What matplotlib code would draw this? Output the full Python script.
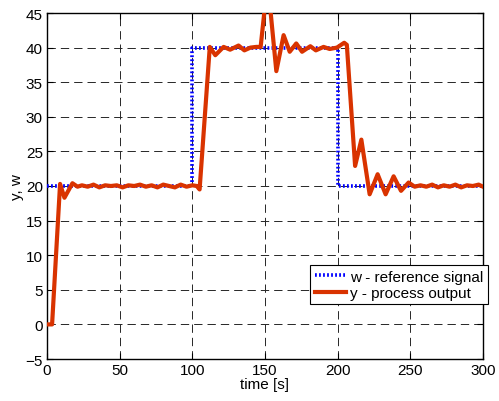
import matplotlib
matplotlib.use("Agg")
import matplotlib.pyplot as plt

plt.rcParams['font.family'] = ['Liberation Sans', 'DejaVu Sans']
plt.rcParams['lines.scale_dashes'] = False

# Reference signal w (setpoint steps)
w_time = [0, 100, 100, 200, 200, 300]
w_value = [20, 20, 40, 40, 20, 20]

# Process output y (sampled response)
y_time = [0, 3.5, 9, 12, 17.5, 21, 24, 28, 32, 36, 40, 44, 48, 52, 56, 60, 64,
          68, 72, 76, 80, 84, 88, 92, 96, 100, 103, 105,
          112, 115.8, 121.5, 126, 131.8, 135.8, 140, 144, 147,
          150.5, 153, 157.8, 162.8, 167, 171.5, 175.5, 181.2, 185, 190.3, 194.5,
          199.5, 204.5, 206.3,
          212, 216.3, 222, 227.5, 233, 238.5, 243.6, 248.8, 253, 257, 261, 265,
          269, 273, 277, 281, 285, 289, 293, 297, 300]
y_value = [0, 0, 20.3, 18.3, 20.4, 19.9, 20.1, 19.9, 20.2, 19.8, 20.1, 20.0, 20.1,
           19.8, 20.1, 20.0, 20.2, 19.9, 20.1, 19.8, 20.2, 20.0, 19.8, 20.2, 19.9,
           20.1, 20.0, 19.5,
           40.1, 38.9, 40.1, 39.7, 40.3, 39.6, 40.0, 40.1, 40.1,
           47.0, 47.0, 36.6, 41.8, 39.4, 40.6, 39.4, 40.2, 39.6, 40.1, 39.8,
           40.0, 40.7, 40.4,
           22.9, 26.7, 18.8, 21.7, 18.8, 21.4, 19.3, 20.5, 19.9, 20.1, 19.9, 20.2,
           19.8, 20.1, 19.9, 20.2, 19.8, 20.1, 20.0, 20.2, 19.9]

x_ticks = [0, 50, 100, 150, 200, 250, 300]
y_ticks = [-5, 0, 5, 10, 15, 20, 25, 30, 35, 40, 45]

fig = plt.figure(figsize=(4.99, 4.02), dpi=100)
ax = fig.add_axes([47 / 499, 1 - 360 / 402, (483 - 47) / 499, (360 - 14) / 402])

ax.plot(w_time, w_value, color='#0000ff', linestyle=(0, (1.3, 1.6)), linewidth=2.6,
        label='w - reference signal', zorder=3)
ax.plot(y_time, y_value, color='#d93300', linewidth=3.0, solid_joinstyle='round',
        label='y - process output', zorder=4)

ax.set_xlim(0, 300)
ax.set_ylim(-5, 45)
ax.set_xticks(x_ticks)
ax.set_yticks(y_ticks)
ax.tick_params(direction='in', length=4, width=0.8, top=True, right=True,
               labelsize=11, pad=3, colors='black')
ax.grid(True, color='0.15', linestyle=(0, (6, 3.6)), linewidth=0.7)
for s in ax.spines.values():
    s.set_linewidth(1.0)
    s.set_color('black')

ax.set_xlabel('time [s]', fontsize=11, labelpad=0)
ax.set_ylabel('y, w', fontsize=11, labelpad=1)

leg = ax.legend(loc='upper right', bbox_to_anchor=(488 / 499, 1 - 266 / 402),
                bbox_transform=fig.transFigure, borderaxespad=0, fontsize=11,
                fancybox=False, framealpha=1, edgecolor='black', handlelength=2.0,
                handletextpad=0.3, borderpad=0.3, labelspacing=0.15)
leg.get_frame().set_linewidth(0.8)

fig.savefig('out.png', dpi=100)
